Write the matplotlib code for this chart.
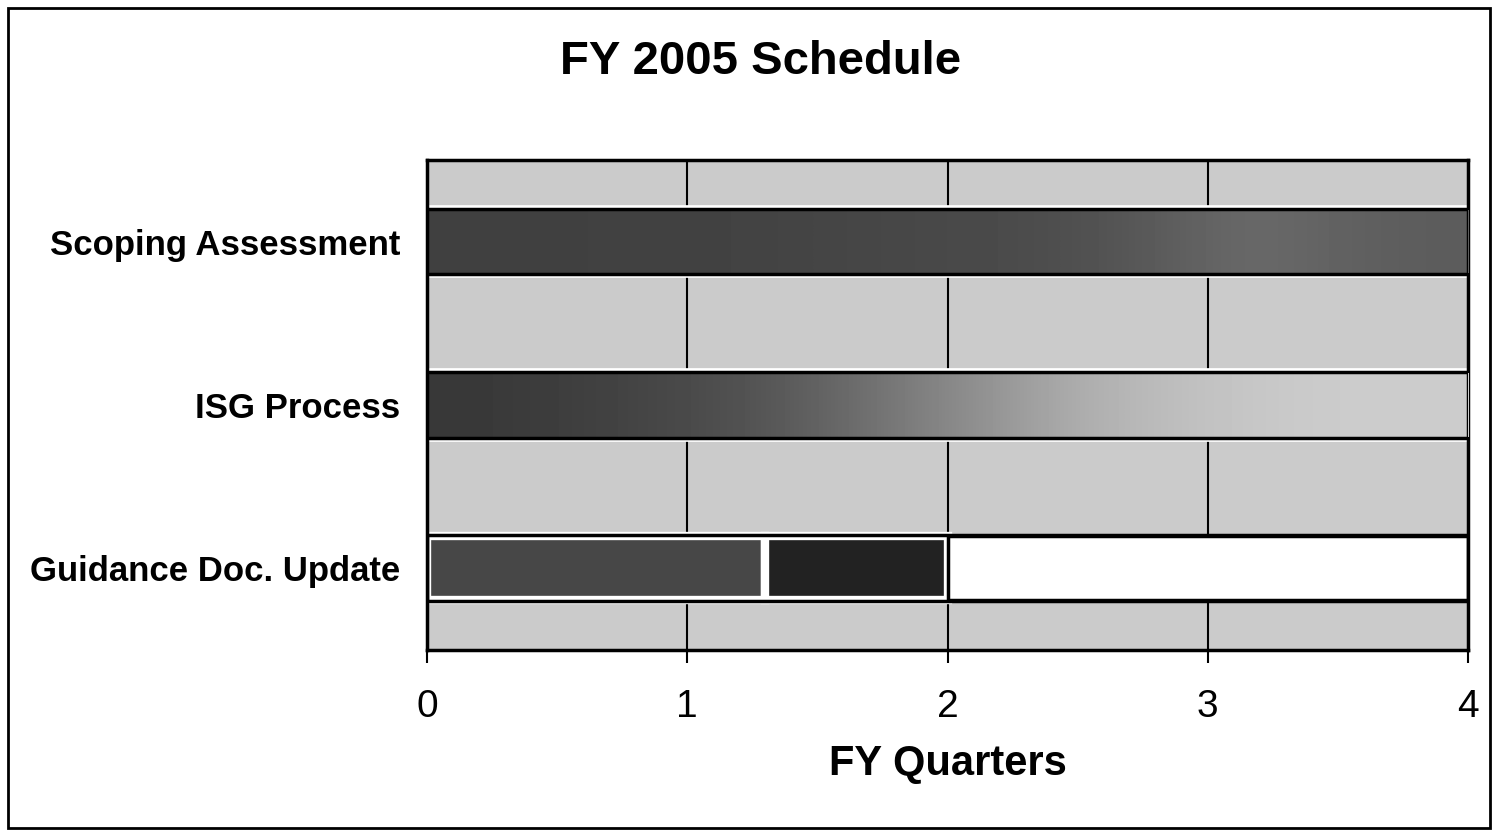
import matplotlib
matplotlib.use('Agg')
import matplotlib.pyplot as plt
from matplotlib.patches import Rectangle
import numpy as np

plt.rcParams['font.family'] = ['Liberation Sans', 'DejaVu Sans']

# schedule data (quarters)
tasks = ['Scoping Assessment', 'ISG Process', 'Guidance Doc. Update']
starts = [[0.0], [0.0], [0.0, 1.3, 2.0]]
lengths = [[4.0], [4.0], [1.3, 0.7, 2.0]]
fills = [['grad_dark'], ['grad_fade'], ['#474747', '#222222', 'white']]
quarters = [0, 1, 2, 3, 4]

# shading ramps used for the scanned-looking bars
ramps = {
    'grad_dark': [0.25, 0.25, 0.26, 0.26, 0.27, 0.28, 0.29, 0.31, 0.36, 0.42, 0.38, 0.36],
    'grad_fade': [0.22, 0.24, 0.27, 0.31, 0.38, 0.48, 0.58, 0.68, 0.74, 0.78, 0.80, 0.80],
}

fig = plt.figure(figsize=(14.93, 8.32), dpi=100)
ax = fig.add_axes([0.286, 0.2188, 0.6973, 0.589])
ax.set_facecolor('#cbcbcb')

bar_h = 0.39
for i, task in enumerate(tasks):
    for s, w, f in zip(starts[i], lengths[i], fills[i]):
        if f in ramps:
            im = ax.imshow(np.array(ramps[f])[None, :], cmap='gray', vmin=0, vmax=1,
                           extent=[s, s + w, i - bar_h / 2, i + bar_h / 2],
                           aspect='auto', interpolation='bicubic', zorder=3)
            box = Rectangle((s, i - bar_h / 2), w, bar_h, facecolor='none',
                            edgecolor='none', transform=ax.transData)
            ax.add_patch(box)
            im.set_clip_path(box)
            ax.barh(i, w, left=s, height=bar_h, color='none', edgecolor='white',
                    linewidth=7, zorder=2)
        elif f == 'white':
            ax.barh(i, w, left=s, height=bar_h, color=f, edgecolor='black',
                    linewidth=2.5, zorder=3)
        else:
            ax.barh(i, w, left=s, height=bar_h, color=f, edgecolor='white',
                    linewidth=6, zorder=2)
    # outline of the whole row
    row_left = min(starts[i])
    row_right = max(s + w for s, w in zip(starts[i], lengths[i]))
    ax.barh(i, row_right - row_left, left=row_left, height=bar_h + 0.012,
            color='none', edgecolor='black', linewidth=2.5, zorder=4)

ax.set_xlim(0, 4)
ax.set_ylim(2.5, -0.5)
ax.set_yticks(range(len(tasks)))
ax.set_yticklabels(tasks, fontsize=25, fontweight='bold')
ax.set_xticks(quarters)
ax.set_xticklabels([str(q) for q in quarters], fontsize=28)
ax.tick_params(axis='y', length=0, pad=19)
ax.tick_params(axis='x', direction='out', length=9, width=1.5, pad=19)
for x in quarters[1:-1]:
    ax.axvline(x, color='black', linewidth=1.5, zorder=1)
for sp in ax.spines.values():
    sp.set_linewidth(2.5)

ax.set_xlabel('FY Quarters', fontsize=30, fontweight='bold', labelpad=14)
fig.text(761 / 1493, 1 - 62 / 832, 'FY 2005 Schedule', fontsize=34, fontweight='bold',
         ha='center', va='center')

fig.patches.append(Rectangle((8 / 1493, 4 / 832), 1482 / 1493, 820 / 832,
                             transform=fig.transFigure, fill=False,
                             edgecolor='black', linewidth=2))

fig.savefig('out.png', dpi=100)
